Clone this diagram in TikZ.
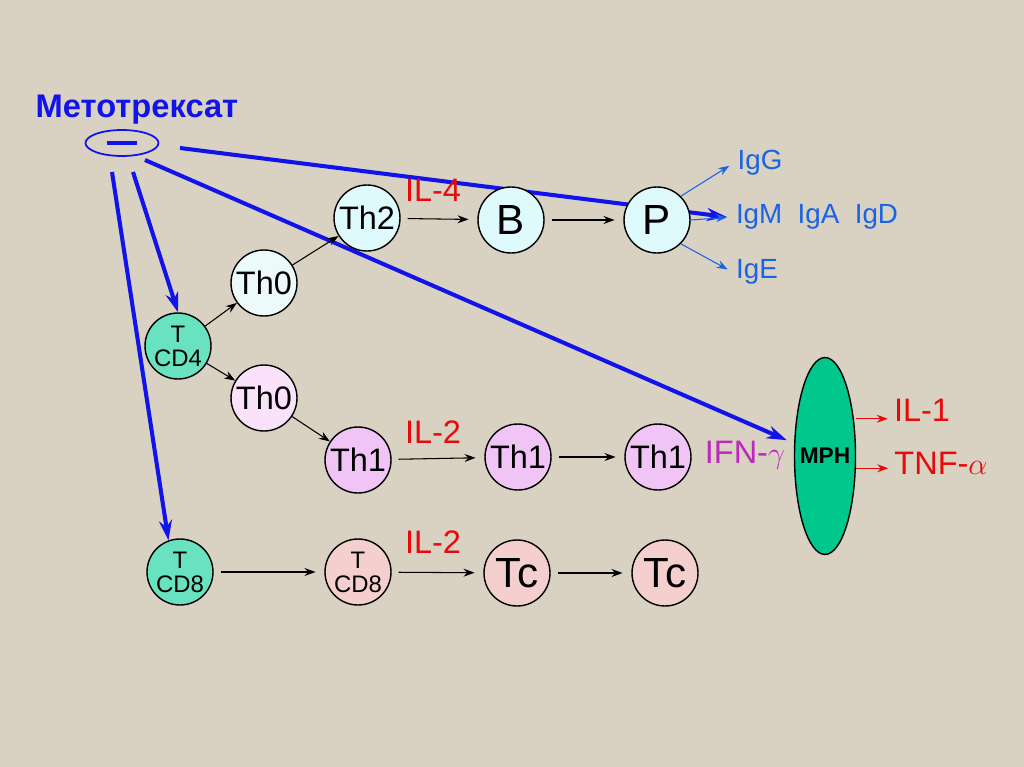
\documentclass[tikz,border=0pt]{standalone}
\usepackage{amsmath}
\usepackage{fontspec}
\setmainfont{Liberation Sans}
\usetikzlibrary{arrows.meta,shapes.geometric}
\pgfdeclarelayer{back}\pgfdeclarelayer{lines}
\pgfsetlayers{back,lines,main}
\definecolor{paper}{RGB}{217,209,194}
\definecolor{drugblue}{RGB}{18,18,235}
\definecolor{igblue}{RGB}{25,100,230}
\definecolor{cyanfill}{RGB}{222,250,252}
\definecolor{palecyan}{RGB}{236,251,250}
\definecolor{aqua}{RGB}{105,226,192}
\definecolor{palepink}{RGB}{250,226,250}
\definecolor{violetfill}{RGB}{240,196,245}
\definecolor{pinkfill}{RGB}{245,206,206}
\definecolor{mphgreen}{RGB}{0,200,140}
\definecolor{ilred}{RGB}{230,10,10}
\definecolor{ifnmag}{RGB}{190,40,190}

\begin{document}
\begin{tikzpicture}[x=0.02cm, y=-0.02cm, every node/.style={font=\fontsize{18.5}{20}\selectfont},
	cell/.style={draw, circle, minimum size=1.32cm, inner sep=0pt, line width=0.8pt},
	tcell/.style={font=\fontsize{13.6}{13.6}\selectfont, align=center},
	letter/.style={font=\fontsize{24}{24}\selectfont},
	link/.style={-{Stealth[length=2.2mm,width=1.6mm]}, line width=0.6pt},
	gap/.style={shorten <=4pt, shorten >=5pt},
	drug/.style={draw=drugblue, line width=2.3pt, -{Stealth[length=4mm,width=2.6mm]}},
	ig/.style={text=igblue, inner sep=2pt, font=\fontsize{15.8}{16}\selectfont},
	cyto/.style={text=ilred}]
	\begin{pgfonlayer}{back}
		\fill[paper] (0,0) rectangle (1024,767);
	\end{pgfonlayer}
	\useasboundingbox (0,0) rectangle (1024,767);
	% methotrexate
	\node[text=drugblue, font=\fontsize{18.6}{20}\selectfont\bfseries] (title) at (137,110) {Метотрексат};
	\node[draw=drugblue, ellipse, line width=1pt, minimum width=1.46cm, minimum height=0.52cm, inner sep=0pt] (mtx) at (122,143) {\textcolor{drugblue}{\rule{0.62cm}{0.1cm}}};
	\coordinate (m1) at (180,148); \coordinate (m2) at (145,160); \coordinate (m3) at (133,172); \coordinate (m4) at (112,172);
	% cells
	\node[cell, fill=cyanfill] (th2) at (367,218) {Th2}; \node[cell, fill=cyanfill, letter] (b) at (511,220) {B}; \node[cell, fill=cyanfill, letter] (p) at (657,220) {P};
	\node[cell, fill=palecyan] (th0a) at (264,283) {Th0}; \node[cell, fill=aqua, tcell] (cd4) at (178,346) {T\\CD4}; \node[cell, fill=palepink] (th0b) at (264,398) {Th0};
	\node[cell, fill=violetfill] (th1a) at (358,460) {Th1}; \node[cell, fill=violetfill] (th1b) at (518,457) {Th1}; \node[cell, fill=violetfill] (th1c) at (658,457) {Th1};
	\node[cell, fill=aqua, tcell] (cd8a) at (180,572) {T\\CD8}; \node[cell, fill=pinkfill, tcell] (cd8b) at (358,572) {T\\CD8};
	\node[cell, fill=pinkfill, letter] (tca) at (517,573) {Tc}; \node[cell, fill=pinkfill, letter] (tcb) at (665,573) {Tc};
	\node[draw, ellipse, fill=mphgreen, line width=0.8pt, minimum width=1.22cm, minimum height=3.94cm, inner sep=0pt, font=\fontsize{12.9}{13}\selectfont\bfseries] (mph) at (825,456) {\makebox[0pt]{MPH}};
	% labels
	\node[cyto] (il4) at (433,190) {IL-4}; \node[cyto] (il2a) at (433,432) {IL-2}; \node[cyto] (il2b) at (433,542) {IL-2};
	\node[text=ifnmag] (ifn) at (745,455) {IFN-$\gamma$};
	\node[cyto] (il1) at (922,410) {IL-1}; \node[cyto] (tnf) at (941,463) {TNF-$\alpha$};
	\node[ig] (igg) at (760,163) {IgG}; \node[ig] (igm) at (817,217) {IgM\ \ IgA\ \ IgD}; \node[ig] (ige) at (757,272) {IgE};
	% connectors
	\begin{pgfonlayer}{lines}
		\draw[drug] (m1) -- ([xshift=-3pt]igm.west);
		\draw[drug] (m2) -- ([xshift=-4pt,yshift=9pt]mph.west);
		\draw[drug] (m3) -- (cd4.north);
		\draw[drug] (m4) -- (cd8a.110);
	\end{pgfonlayer}
	\foreach \a/\b in {th2/b, b/p, th1a/th1b, th1b/th1c, cd8a/cd8b, cd8b/tca, tca/tcb} {\draw[link, gap] (\a) -- (\b);}
	\foreach \a/\b in {th0a/th2, cd4/th0a, cd4/th0b, th0b/th1a} {\draw[link] (\a) -- (\b);}
	\foreach \a/\b in {p.45/igg.west, p.east/igm.west, p.-45/ige.west} {\draw[link, draw=igblue, shorten >=3pt] (\a) -- (\b);}
	\draw[link, draw=ilred] ([yshift=-5pt]mph.east |- il1) -- ([yshift=-5pt]il1.west);
	\draw[link, draw=ilred] ([yshift=-3pt]mph.east |- tnf) -- ([yshift=-3pt]tnf.west);
\end{tikzpicture}
\end{document}
